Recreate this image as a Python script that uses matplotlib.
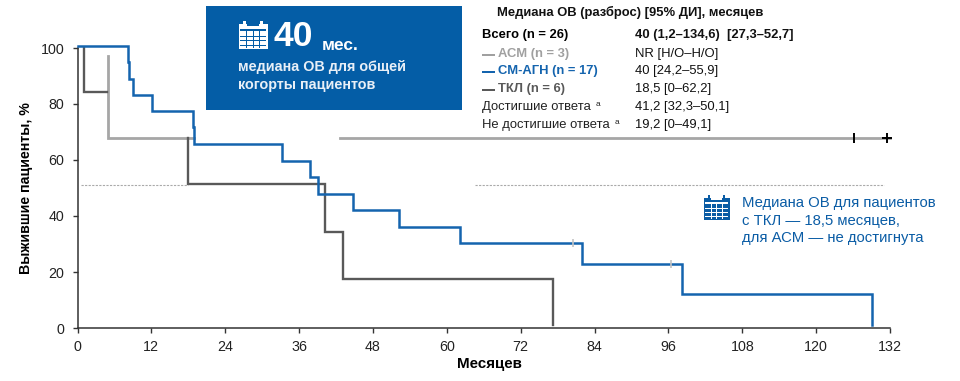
import matplotlib
matplotlib.use("Agg")
import matplotlib.pyplot as plt
from matplotlib.patches import Rectangle
from matplotlib.transforms import Affine2D

plt.rcParams["font.family"] = ["Liberation Sans", "DejaVu Sans"]

W, H = 960, 381
BLUE = "#1464ae"
BOX_BLUE = "#045da6"
DARK = "#595959"
LIGHT = "#a6a6a6"
TEXT_BLUE = "#0a5ca5"

# Kaplan-Meier steps
cm_months = [0, 8.15, 8.4, 9.0, 12.15, 18.7, 19.0, 33.3, 37.7, 39.0, 44.8, 52.2, 62.2, 81.9, 98.2, 129.1, 129.1]
cm_surv = [100.8, 95, 89, 83.2, 77.5, 71.7, 65.7, 59.6, 53.8, 48, 42, 36, 30.3, 23, 12, 1, 1]
tcl_months = [1.1, 1.1, 4.8]
tcl_surv = [100, 84.2, 84.2]
tcl2_months = [17.95, 17.95, 40.2, 40.2, 43.1, 43.1, 77.3, 77.3]
tcl2_surv = [67.8, 51.3, 51.3, 34.4, 34.4, 17.5, 17.5, 1]
acm_months = [4.9, 4.9, 19]
acm_surv = [97, 67.8, 67.8]
acm2_months = [42.7, 132]
acm2_surv = [67.8, 67.8]
cm_cens_months = [80.5, 96.5]
cm_cens_surv = [30.3, 23]
acm_cens_months = [126.1, 131.5]
acm_cens_surv = [67.8, 67.8]
median_level = 51

x_ticks = list(range(0, 133, 12))
y_ticks = [0, 20, 40, 60, 80, 100]

table_left = ["Всего (n = 26)", "АСМ (n = 3)", "СМ-АГН (n = 17)", "ТКЛ (n = 6)",
              "Достигшие ответа", "Не достигшие ответа"]
table_right = ["40 (1,2–134,6)  [27,3–52,7]", "NR [Н/О–Н/О]", "40 [24,2–55,9]", "18,5 [0–62,2]",
               "41,2 [32,3–50,1]", "19,2 [0–49,1]"]
table_y = [35, 54, 71, 89, 107, 125]
table_col = ["black", "#a0a0a0", "#1464ae", "#595959", "#222222", "#222222"]
table_bold = ["bold", "bold", "bold", "bold", "normal", "normal"]

fig = plt.figure(figsize=(W / 100, H / 100), dpi=100)
# pixel overlay, y going down like in the picture
px = Affine2D().scale(1, -1).translate(0, H)

ax = fig.add_axes([77.5 / W, (H - 328) / H, (890 - 77.5) / W, (328 - 48) / H])
ax.set_xlim(0, 132)
ax.set_ylim(0, 100)
for s in ["top", "right"]:
    ax.spines[s].set_visible(False)
for s in ["left", "bottom"]:
    ax.spines[s].set_linewidth(1.1)
    ax.spines[s].set_color("#333333")
ax.set_xticks(x_ticks)
ax.set_yticks(y_ticks)
ax.tick_params(axis="x", length=3.5, width=1, color="#333333", labelsize=10.3, labelcolor="#222222", pad=5)
ax.tick_params(axis="y", length=3.5, width=1, color="#333333", labelsize=10.3, labelcolor="#222222", pad=6)
ax.set_xlabel("Месяцев", fontsize=10.9, fontweight="bold")
ax.xaxis.set_label_coords(0.5065, -0.105)
ax.set_ylabel("Выжившие пациенты, %", fontsize=10.2, fontweight="bold")
ax.yaxis.set_label_coords(-0.0548, 0.5)

# dashed median reference, broken behind the text block
ax.plot([0.6, 18], [median_level] * 2, color="#aaaaaa", lw=0.8, ls=(0, (2, 1.2)), zorder=1)
ax.plot([64.6, 131], [median_level] * 2, color="#aaaaaa", lw=0.8, ls=(0, (2, 1.2)), zorder=1)

ax.plot(acm_months, acm_surv, color=LIGHT, lw=2, clip_on=False, zorder=2, solid_joinstyle="miter")
ax.plot(acm2_months, acm2_surv, color=LIGHT, lw=2, clip_on=False, zorder=2)
ax.plot(tcl_months, tcl_surv, color=DARK, lw=1.7, clip_on=False, zorder=3, solid_joinstyle="miter")
ax.plot(tcl2_months, tcl2_surv, color=DARK, lw=1.7, clip_on=False, zorder=3, solid_joinstyle="miter")
ax.step(cm_months, cm_surv, where="post", color=BLUE, lw=1.8, clip_on=False, zorder=4, solid_joinstyle="miter")

ax.plot(cm_cens_months, cm_cens_surv, ls="", marker="|", ms=6, mew=1.2, color="#c4c4c4", zorder=5)
ax.plot(acm_cens_months[:1], acm_cens_surv[:1], ls="", marker="|", ms=6.5, mew=1.4, color="black", zorder=5, clip_on=False)
ax.plot(acm_cens_months[1:], acm_cens_surv[1:], ls="", marker="+", ms=7.5, mew=1.4, color="black", zorder=5, clip_on=False)


def put(x, y, s, **kw):
    kw.setdefault("va", "center")
    fig.text(x, y, s, transform=px, **kw)


def add_rect(x, y, w, h, c):
    fig.add_artist(Rectangle((x, y), w, h, transform=px, fc=c, ec="none"))


def calendar(x0, y0, w, h, col, bg):
    # small calendar pictogram made of rects, grid lines in the background colour
    add_rect(x0, y0 + h * 0.11, w, h * 0.89, col)
    for k in [0.16, 0.74]:
        add_rect(x0 + w * k, y0, w * 0.1, h * 0.2, col)
    add_rect(x0 + w * 0.3, y0 + h * 0.09, w * 0.4, h * 0.1, bg)
    add_rect(x0, y0 + h * 0.09, w * 0.14, h * 0.03, bg)
    add_rect(x0 + w * 0.04, y0 + h * 0.29, w * 0.92, h * 0.06, bg)
    for k in [0.52, 0.68, 0.84]:
        add_rect(x0 + w * 0.04, y0 + h * k, w * 0.92, h * 0.045, bg)
    for k in [0.27, 0.49, 0.71]:
        add_rect(x0 + w * k, y0 + h * 0.35, w * 0.04, h * 0.6, bg)


# blue box
add_rect(205.5, 6, 256.5, 104, BOX_BLUE)
calendar(238.5, 21, 29, 28, "white", BOX_BLUE)
put(273, 37, "40", color="white", fontsize=25.5, fontweight="bold")
put(322, 45, "мес.", color="white", fontsize=12.5, fontweight="bold")
put(238, 67, "медиана ОВ для общей", color="#e8eff7", fontsize=10.4, fontweight="bold")
put(238, 85, "когорты пациентов", color="#e8eff7", fontsize=10.4, fontweight="bold")

# table
put(497, 12, "Медиана ОВ (разброс) [95% ДИ], месяцев", fontsize=9.35, fontweight="bold", color="#111111")
for i in range(len(table_left)):
    x_txt = 498 if 1 <= i <= 3 else 482
    put(x_txt, table_y[i], table_left[i], fontsize=9.35, color=table_col[i], fontweight=table_bold[i])
    if 1 <= i <= 3:
        add_rect(482, table_y[i] - 0.5, 13, 2, table_col[i])
    put(635, table_y[i], table_right[i], fontsize=9.35, color="#111111",
        fontweight="bold" if i == 0 else "normal")
put(596, 105, "a", fontsize=6, color="#222222")
put(615, 123, "a", fontsize=6, color="#222222")

# note on the right
calendar(703.5, 195, 26, 25, TEXT_BLUE, "white")
for yy, s in zip([203, 221, 238], ["Медиана ОВ для пациентов", "с ТКЛ — 18,5 месяцев,", "для АСМ — не достигнута"]):
    put(742, yy, s, fontsize=10.75, color=TEXT_BLUE)

fig.savefig("out.png", dpi=100)
